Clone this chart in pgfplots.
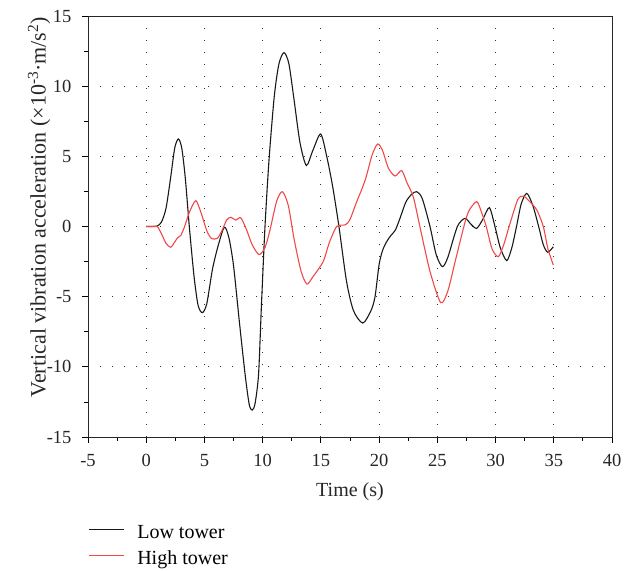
\documentclass[border=0pt]{standalone}
\usepackage{pgfplots}
\pgfplotsset{compat=1.18}
\usepackage{fontspec}
\setmainfont{Liberation Serif}
\definecolor{lowc}{RGB}{25,25,25}
\definecolor{highc}{RGB}{242,72,72}
\begin{document}
\begin{tikzpicture}
\begin{axis}[
  scale only axis,
  width=524pt, height=421pt,
  xmin=-5, xmax=40, ymin=-15, ymax=15,
  xtick={-5,0,...,40}, ytick={-15,-10,...,15},
  minor x tick num=1, minor y tick num=1,
  tick align=outside, xtick pos=left, ytick pos=left,
  major tick length=6pt, minor tick length=4pt,
  every tick/.style={black, line width=0.8pt},
  axis line style={line width=0.9pt, black!85},
  grid=major,
  major grid style={black!80, line width=0.9pt, dash pattern=on 0.9pt off 11.1pt},
  /pgf/number format/assume math mode=true,
  tick label style={font=\fontsize{18.5}{21}\selectfont, black!85},
  xticklabel style={yshift=-8pt},
  yticklabel style={xshift=-7pt},
  xlabel={Time (s)},
  ylabel={Vertical vibration acceleration (\texttimes10\textsuperscript{-3}·m/s\textsuperscript{2})},
  xlabel style={font=\fontsize{20}{24}\selectfont, black!85,
    at={(axis description cs:0.5,0)}, anchor=base, yshift=-60pt},
  ylabel style={font=\fontsize{22}{26}\selectfont, black!85,
    at={(axis description cs:-0.065,0.546)}, anchor=south, rotate=0},
  legend style={at={(axis description cs:0,-0.205)}, anchor=north west, draw=none, fill=none,
    font=\fontsize{20}{24}\selectfont, row sep=7pt, inner sep=0pt},
  legend cell align=left,
  legend image code/.code={\draw[#1] (0pt,0.32em) -- (35pt,0.32em); \path (46pt,0pt);},
  every axis plot/.append style={line width=1.1pt},
]
\addplot[lowc, smooth, tension=0.45] coordinates {
(0,0) (0.5,0) (0.9,0.02) (1.3,0.3) (1.7,1.3) (2.1,3.5) (2.45,5.6) (2.76,6.24)
(3.05,5.6) (3.35,3.5) (3.7,0) (4.1,-3.5) (4.45,-5.6) (4.82,-6.14) (5.2,-5.5)
(5.7,-3.0) (6.2,-1.3) (6.71,-0.05) (7.1,-0.8) (7.5,-2.8) (8.0,-6.8) (8.5,-10.6)
(8.85,-12.7) (9.11,-13.08) (9.35,-12.6) (9.65,-10.5) (9.9,-5.5) (10.2,0)
(10.55,4.8) (11.0,9.3) (11.4,11.6) (11.83,12.39) (12.25,11.6) (12.7,9.0)
(13.2,6.0) (13.75,4.35) (14.3,5.4) (14.98,6.59) (15.5,5.0) (16.0,2.9) (16.55,0)
(17.2,-3.9) (17.8,-6.0) (18.6,-6.88) (19.3,-6.0) (19.65,-5.0) (20.0,-2.7)
(20.3,-1.7) (20.65,-1.08) (21.0,-0.65) (21.4,-0.25) (21.8,0.6) (22.3,1.75)
(22.8,2.3) (23.23,2.48) (23.7,2.0) (24.37,0) (24.9,-2.0) (25.43,-2.86)
(25.9,-2.2) (26.72,0) (27.38,0.58) (27.9,0.15) (28.38,-0.13) (28.9,0.5)
(29.47,1.34) (29.95,0) (30.4,-1.5) (30.96,-2.43) (31.4,-1.5) (31.8,0)
(32.2,1.6) (32.68,2.36) (33.2,1.5) (33.7,0) (34.1,-1.3) (34.48,-1.84) (34.96,-1.44)
};
\addlegendentry{Low tower}
\addplot[highc, smooth, tension=0.45] coordinates {
(0,0) (0.5,0) (0.95,0) (1.3,-0.5) (1.7,-1.2) (2.1,-1.48) (2.45,-1.1) (2.7,-0.8)
(2.96,-0.65) (3.3,0) (3.7,1.0) (4.25,1.84) (4.7,1.0) (5.2,-0.3) (5.6,-0.85)
(6.1,-0.85) (6.5,-0.3) (6.9,0.45) (7.26,0.66) (7.69,0.46) (8.12,0.62) (8.6,-0.2)
(9.1,-1.3) (9.69,-2.0) (10.2,-1.5) (10.63,-0.25) (11.2,1.8) (11.69,2.48)
(12.2,1.5) (12.7,-0.9) (13.3,-3.2) (13.8,-4.1) (14.3,-3.6) (15.2,-2.5)
(15.7,-1.2) (16.36,0) (17.1,0.12) (17.5,0.5) (18.0,1.6) (18.8,3.3) (19.4,5.1)
(19.88,5.88) (20.3,5.4) (20.8,4.15) (21.37,3.6) (21.94,3.98) (22.4,3.1)
(22.94,2.1) (23.5,0) (24.37,-3.2) (25.29,-5.43) (25.9,-4.6) (26.5,-2.6)
(27.28,0) (27.7,1.1) (28.38,1.77) (28.8,1.0) (29.2,0) (29.7,-1.6) (30.24,-2.15)
(30.7,-1.3) (31.2,0.1) (31.9,1.9) (32.39,2.17) (32.9,1.8) (33.54,1.18)
(34.1,0) (34.5,-1.6) (34.96,-2.74)
};
\addlegendentry{High tower}
\end{axis}
\pgfresetboundingbox
\useasboundingbox ([xshift=-88pt,yshift=-134pt]current axis.south west) rectangle ([xshift=21pt,yshift=16pt]current axis.north east);
\end{tikzpicture}
\end{document}
